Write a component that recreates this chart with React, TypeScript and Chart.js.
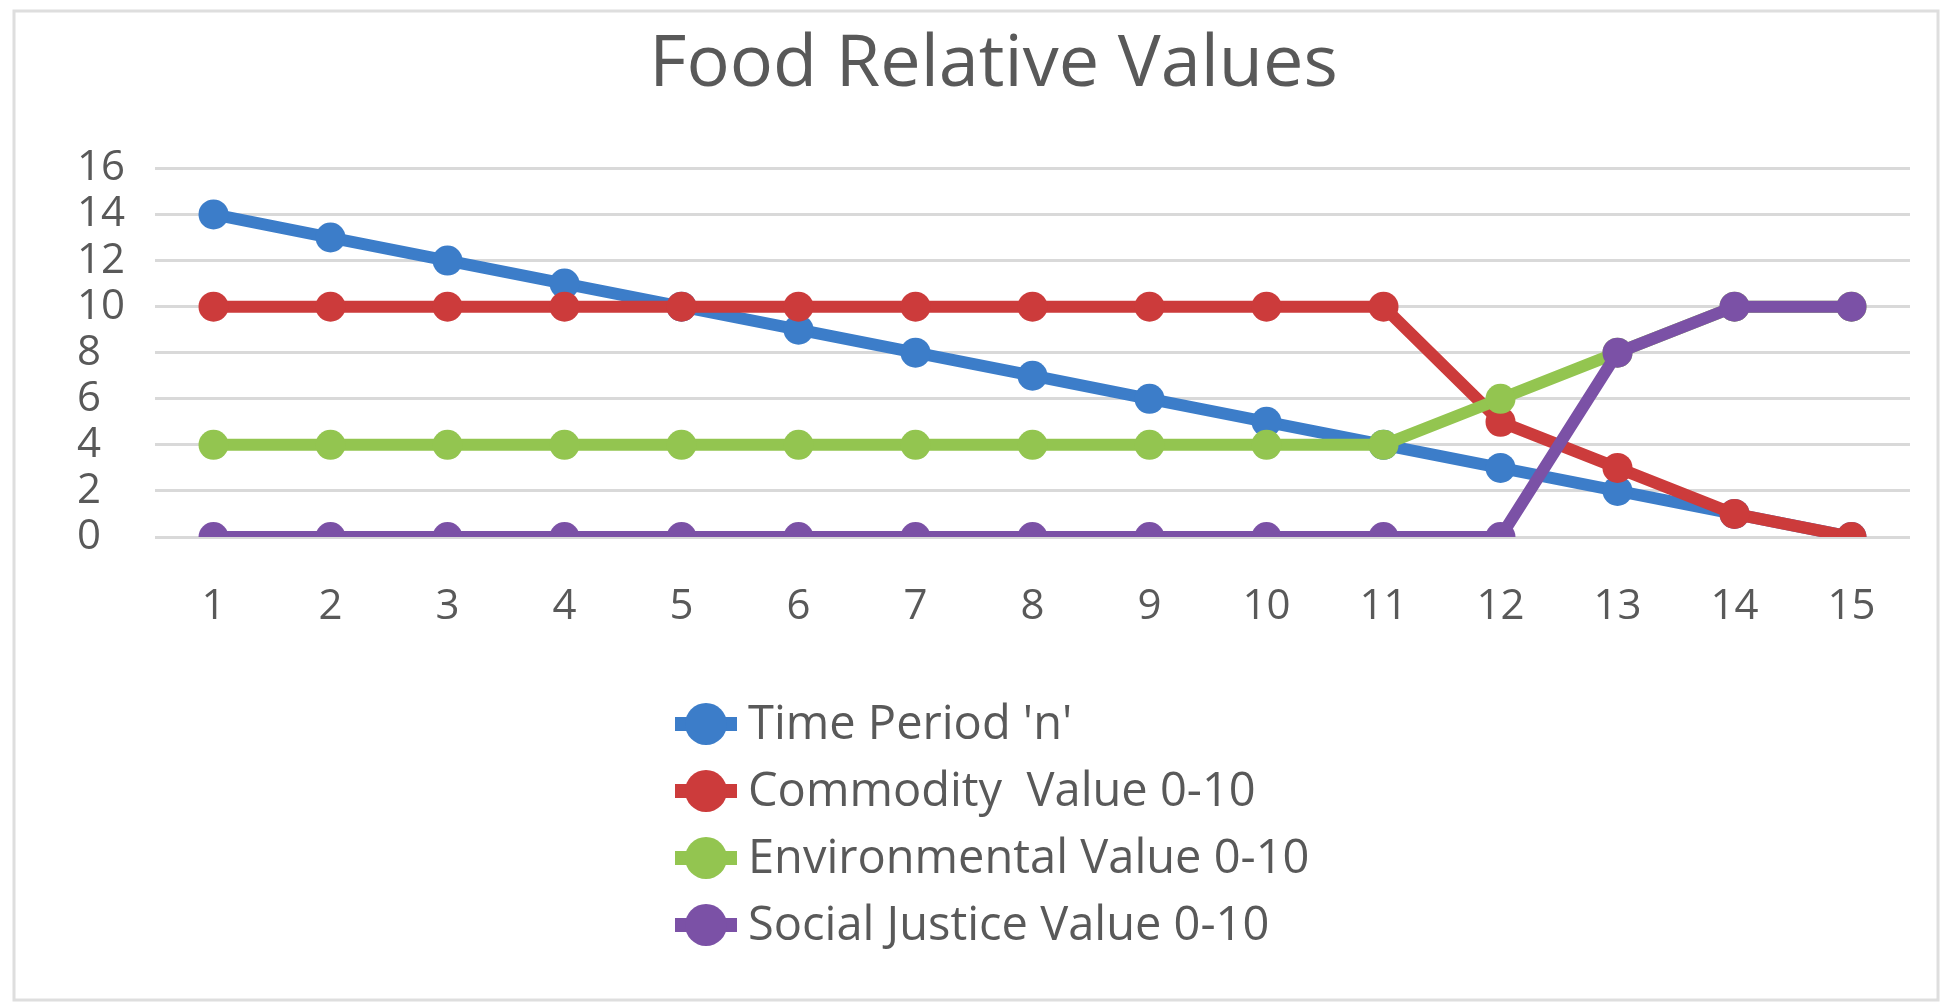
import { useEffect, useRef } from 'react';
import { Chart, registerables } from 'chart.js';

Chart.register(...registerables);

const TITLE = 'Food Relative Values';
const CATEGORIES = ['1', '2', '3', '4', '5', '6', '7', '8', '9', '10', '11', '12', '13', '14', '15'];
const TIME_PERIOD = [14, 13, 12, 11, 10, 9, 8, 7, 6, 5, 4, 3, 2, 1, 0];
const COMMODITY = [10, 10, 10, 10, 10, 10, 10, 10, 10, 10, 10, 5, 3, 1, 0];
const ENVIRONMENTAL = [4, 4, 4, 4, 4, 4, 4, 4, 4, 4, 4, 6, 8, 10, 10];
const SOCIAL_JUSTICE = [0, 0, 0, 0, 0, 0, 0, 0, 0, 0, 0, 0, 8, 10, 10];
const SERIES_NAMES = ["Time Period 'n'", 'Commodity  Value 0-10', 'Environmental Value 0-10', 'Social Justice Value 0-10'];
const SERIES_COLORS = ['#3c7dc9', '#cc3b3b', '#93c550', '#7b51a6'];
const Y_MIN = 0;
const Y_MAX = 16;
const Y_STEP = 2;

const FONT = '"Open Sans"';
const TEXT_COLOR = '#595959';

const W = 1948;
const H = 1003;

const framePlugin = {
  id: 'frame',
  beforeDraw(chart: any) {
    const ctx = chart.ctx;
    ctx.save();
    ctx.fillStyle = '#ffffff';
    ctx.fillRect(0, 0, chart.width, chart.height);
    ctx.strokeStyle = '#dedede';
    ctx.lineWidth = 3;
    ctx.strokeRect(14, 11, chart.width - 24, chart.height - 14);
    ctx.restore();
  },
};

const legendPlugin = {
  id: 'stackedLegend',
  afterDraw(chart: any) {
    const ctx = chart.ctx;
    const markerX = 706;
    const firstY = 724;
    const rowH = 67;
    ctx.save();
    chart.data.datasets.forEach((ds: any, i: number) => {
      const y = firstY + i * rowH;
      ctx.strokeStyle = ds.borderColor;
      ctx.lineWidth = 14;
      ctx.beginPath();
      ctx.moveTo(markerX - 31, y);
      ctx.lineTo(markerX + 31, y);
      ctx.stroke();
      ctx.fillStyle = ds.borderColor;
      ctx.beginPath();
      ctx.arc(markerX, y, 21, 0, Math.PI * 2);
      ctx.fill();
      ctx.fillStyle = TEXT_COLOR;
      ctx.font = `47px ${FONT}`;
      ctx.textAlign = 'left';
      ctx.textBaseline = 'middle';
      ctx.fillText(ds.label, 748, y + 2);
    });
    ctx.restore();
  },
};

export default function App() {
  const canvasRef = useRef<HTMLCanvasElement | null>(null);

  useEffect(() => {
    const canvas = canvasRef.current;
    if (!canvas) return;
    const seriesData = [TIME_PERIOD, COMMODITY, ENVIRONMENTAL, SOCIAL_JUSTICE];
    const chart = new Chart(canvas, {
      type: 'line',
      data: {
        labels: CATEGORIES,
        datasets: seriesData.map((d, i) => ({
          label: SERIES_NAMES[i],
          data: d,
          borderColor: SERIES_COLORS[i],
          backgroundColor: SERIES_COLORS[i],
          pointBackgroundColor: SERIES_COLORS[i],
          pointBorderColor: SERIES_COLORS[i],
          borderWidth: 12,
          pointRadius: 15,
          pointBorderWidth: 0,
          pointHoverRadius: 15,
          tension: 0,
          order: 4 - i,
        })),
      },
      plugins: [framePlugin, legendPlugin],
      options: {
        responsive: false,
        animation: false,
        layout: { padding: { left: 77, right: 38, top: 0, bottom: 366 } },
        plugins: {
          legend: { display: false },
          tooltip: { enabled: false },
          title: {
            display: true,
            text: TITLE,
            color: TEXT_COLOR,
            font: { family: FONT, size: 72, weight: 'normal', lineHeight: 1.2 },
            padding: { top: 22, bottom: 60 },
          },
        },
        scales: {
          x: {
            offset: true,
            grid: { display: false, drawTicks: false },
            border: { display: false },
            ticks: {
              color: TEXT_COLOR,
              font: { family: FONT, size: 42 },
              padding: 45,
              maxRotation: 0,
              autoSkip: false,
            },
            afterFit: (scale: any) => {
              scale.height = 100;
            },
          },
          y: {
            min: Y_MIN,
            max: Y_MAX,
            grid: { color: '#d9d9d9', lineWidth: 3, drawTicks: false },
            border: { display: false },
            ticks: {
              stepSize: Y_STEP,
              autoSkip: false,
              crossAlign: 'far',
              color: TEXT_COLOR,
              font: { family: FONT, size: 42, lineHeight: 1.0 },
              padding: 30,
            },
            afterFit: (scale: any) => {
              scale.width = 78;
            },
          },
        },
      },
    });
    return () => chart.destroy();
  }, []);

  return (
    <div style={{ position: 'absolute', left: 0, top: 0, width: W, height: H, background: '#fff' }}>
      <canvas ref={canvasRef} width={W} height={H} style={{ display: 'block', width: W, height: H }} />
    </div>
  );
}
